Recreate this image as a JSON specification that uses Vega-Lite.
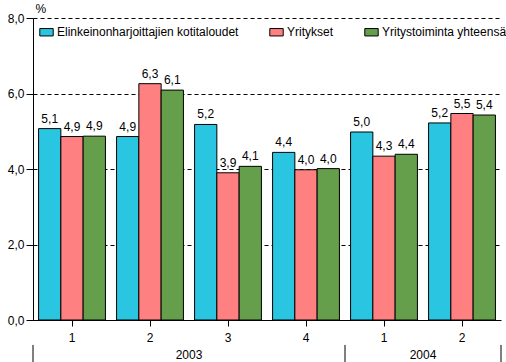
{
  "$schema": "https://vega.github.io/schema/vega-lite/v6.json",
  "width": 468,
  "height": 302,
  "autosize": {"type": "none"},
  "padding": {"left": 33, "top": 18, "right": 5, "bottom": 42},
  "background": "white",
  "config": {
    "locale": {"number": {"decimal": ",", "thousands": "\u00a0", "grouping": [3], "currency": ["", "\u00a0€"]}},
    "font": "Liberation Sans",
    "view": {"stroke": null},
    "axis": {"labelFont": "Liberation Sans", "labelFontSize": 12, "labelColor": "black", "domainColor": "black", "tickColor": "black", "titleColor": "black"}
  },
  "datasets": {
    "bars": [
      {"q": "2003-1", "s": "Elinkeinonharjoittajien kotitaloudet", "v": 5.07},
      {"q": "2003-1", "s": "Yritykset", "v": 4.86},
      {"q": "2003-1", "s": "Yritystoiminta yhteensä", "v": 4.87},
      {"q": "2003-2", "s": "Elinkeinonharjoittajien kotitaloudet", "v": 4.86},
      {"q": "2003-2", "s": "Yritykset", "v": 6.26},
      {"q": "2003-2", "s": "Yritystoiminta yhteensä", "v": 6.09},
      {"q": "2003-3", "s": "Elinkeinonharjoittajien kotitaloudet", "v": 5.18},
      {"q": "2003-3", "s": "Yritykset", "v": 3.9},
      {"q": "2003-3", "s": "Yritystoiminta yhteensä", "v": 4.07},
      {"q": "2003-4", "s": "Elinkeinonharjoittajien kotitaloudet", "v": 4.44},
      {"q": "2003-4", "s": "Yritykset", "v": 3.98},
      {"q": "2003-4", "s": "Yritystoiminta yhteensä", "v": 4.01},
      {"q": "2004-1", "s": "Elinkeinonharjoittajien kotitaloudet", "v": 4.98},
      {"q": "2004-1", "s": "Yritykset", "v": 4.34},
      {"q": "2004-1", "s": "Yritystoiminta yhteensä", "v": 4.39},
      {"q": "2004-2", "s": "Elinkeinonharjoittajien kotitaloudet", "v": 5.22},
      {"q": "2004-2", "s": "Yritykset", "v": 5.47},
      {"q": "2004-2", "s": "Yritystoiminta yhteensä", "v": 5.43}
    ],
    "years": [
      {"q": "2003-2", "year": "2003"},
      {"q": "2004-1", "year": "2004"}
    ],
    "sepStart": [
      {"q": "2003-1"},
      {"q": "2004-1"}
    ],
    "sepEnd": [
      {"q": "2004-2"}
    ]
  },
  "layer": [
    {
      "data": {"name": "bars"},
      "mark": {"type": "bar", "stroke": "black", "strokeWidth": 1},
      "encoding": {
        "x": {
          "field": "q", "type": "nominal",
          "scale": {"domain": ["2003-1", "2003-2", "2003-3", "2003-4", "2004-1", "2004-2"], "paddingInner": 0, "paddingOuter": 0},
          "axis": {"title": null, "labelExpr": "split(datum.label, '-')[1]", "labelAngle": 0, "tickSize": 6, "labelPadding": 6, "domainColor": "black", "grid": false}
        },
        "xOffset": {
          "field": "s", "type": "nominal",
          "scale": {"domain": ["Elinkeinonharjoittajien kotitaloudet", "Yritykset", "Yritystoiminta yhteensä"], "paddingInner": 0, "paddingOuter": 0.25}
        },
        "y": {
          "field": "v", "type": "quantitative", "title": "%",
          "scale": {"domain": [0, 8], "nice": false},
          "axis": {"values": [0, 2, 4, 6, 8], "format": ".1f", "titleAngle": 0, "titleX": 2, "titleY": -10, "titleAlign": "left", "titleBaseline": "middle", "titleFontWeight": "normal", "titleFontSize": 12, "titleFont": "Liberation Sans", "grid": true, "gridDash": [4, 3], "gridColor": "black", "gridOpacity": 1, "tickSize": 7, "labelPadding": 2}
        },
        "color": {
          "field": "s", "type": "nominal",
          "scale": {"domain": ["Elinkeinonharjoittajien kotitaloudet", "Yritykset", "Yritystoiminta yhteensä"], "range": ["#29C5E1", "#FF8080", "#669F4C"]},
          "legend": {
            "title": null, "orient": "none", "legendX": 6, "legendY": 6.5, "direction": "horizontal", "columns": 3,
            "padding": 0, "columnPadding": 28,
            "symbolType": "M-1,-0.55H1V0.55H-1Z", "symbolSize": 180, "symbolStrokeColor": "black", "symbolStrokeWidth": 1, "symbolOpacity": 1,
            "labelFontSize": 12, "labelFont": "Liberation Sans", "labelColor": "black", "labelOffset": 3, "labelLimit": 400
          }
        }
      }
    },
    {
      "data": {"name": "bars"},
      "mark": {"type": "text", "baseline": "bottom", "dy": -3, "fontSize": 12, "font": "Liberation Sans", "color": "black"},
      "encoding": {
        "x": {"field": "q", "type": "nominal"},
        "xOffset": {"field": "s", "type": "nominal"},
        "y": {"field": "v", "type": "quantitative", "title": "%"},
        "text": {"field": "v", "type": "quantitative", "format": ".1f"}
      }
    },
    {
      "data": {"name": "years"},
      "mark": {"type": "text", "baseline": "middle", "align": "center", "fontSize": 12, "font": "Liberation Sans", "color": "black", "clip": false},
      "encoding": {
        "x": {"field": "q", "type": "nominal", "bandPosition": 1},
        "y": {"datum": -0.93, "type": "quantitative", "title": "%"},
        "text": {"field": "year", "type": "nominal"}
      }
    },
    {
      "data": {"name": "sepStart"},
      "mark": {"type": "rule", "color": "black", "strokeWidth": 1, "clip": false},
      "encoding": {
        "x": {"field": "q", "type": "nominal", "bandPosition": 0},
        "y": {"datum": -0.66, "type": "quantitative", "title": "%"},
        "y2": {"datum": -1.12}
      }
    },
    {
      "data": {"name": "sepEnd"},
      "mark": {"type": "rule", "color": "black", "strokeWidth": 1, "clip": false},
      "encoding": {
        "x": {"field": "q", "type": "nominal", "bandPosition": 1},
        "y": {"datum": -0.66, "type": "quantitative", "title": "%"},
        "y2": {"datum": -1.12}
      }
    }
  ]
}
